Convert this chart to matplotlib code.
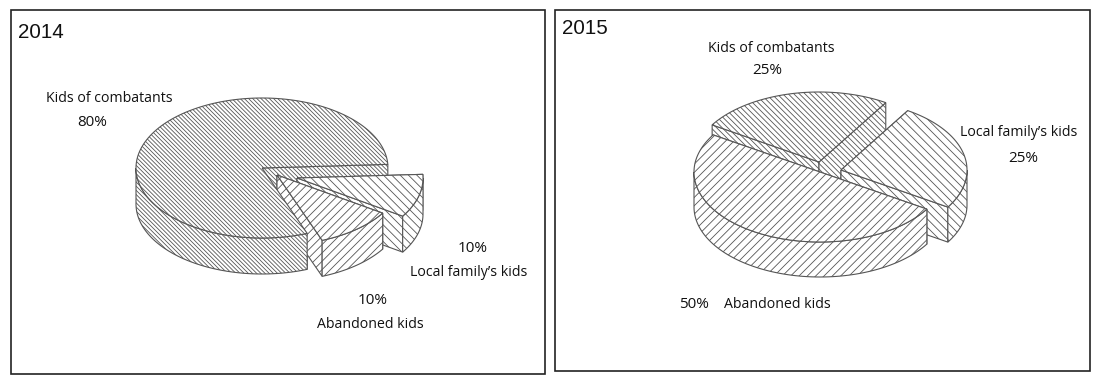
import numpy as np
import matplotlib
matplotlib.use("Agg")
import matplotlib.pyplot as plt
from matplotlib.path import Path
from matplotlib.patches import PathPatch, Rectangle

categories = ["Kids of combatants", "Abandoned kids", "Local family’s kids"]
values_2014 = [80, 10, 10]
values_2015 = [25, 50, 25]

HATCH_COL = "#555555"
plt.rcParams["hatch.linewidth"] = 0.6
LABEL_FONT = "Open Sans"
RX, RY = 126.0, 70.0

fig = plt.figure(figsize=(11, 3.81), dpi=100)
ax = fig.add_axes([0, 0, 1, 1])
ax.set_xlim(0, 1100)
ax.set_ylim(381, 0)
ax.axis("off")


def ell(c, t):
    t = np.radians(t)
    return np.column_stack([c[0] + RX * np.cos(t), c[1] - RY * np.sin(t)])


def poly(pts, hatch, z):
    ax.add_patch(PathPatch(Path(np.vstack([pts, pts[:1]])), facecolor="white",
                           edgecolor=HATCH_COL, hatch=hatch, lw=0.8, zorder=z))


def faces(c, t0, t1, depth, hatch, z):
    down = np.array([0, depth])
    ctr = np.array([c])
    for t in (t1, t0):
        e = ell(c, np.array([t]))
        poly(np.vstack([ctr, e, e + down, ctr + down]), hatch, z)


def shell(c, t0, t1, depth, hatch, z):
    down = np.array([0, depth])
    ctr = np.array([c])
    for k in (-360, 0, 360):
        a, b = max(t0, 180 + k), min(t1, 360 + k)
        if b > a:
            arc = ell(c, np.linspace(a, b, 80))
            poly(np.vstack([arc, arc[::-1] + down]), hatch, z)
    arc = ell(c, np.linspace(t0, t1, 200))
    poly(np.vstack([ctr, arc]), hatch, z)


def pie(vals, start, centres, hatches, order, depth):
    a = start
    spans = []
    for v in vals:
        spans.append((a, a + v * 3.6))
        a += v * 3.6
    for z, (part, i) in enumerate(order):
        for fn in ([faces] if part != "s" else []) + ([shell] if part != "f" else []):
            fn(centres[i], spans[i][0], spans[i][1], depth, hatches[i], z + 2)


# 2014: combatants, abandoned, local counter-clockwise from the right
pie(values_2014, 3,
    [(262, 168), (277, 175), (297, 178)],
    ["\\" * 8, "/" * 4, "\\" * 4],
    [("f", 0), ("a", 2), ("a", 1), ("s", 0)], 36)

# 2015: local, combatants, abandoned counter-clockwise from the lower right
pie([values_2015[2], values_2015[0], values_2015[1]], -32,
    [(841, 170), (819, 162), (820, 172)],
    ["\\" * 4, "\\" * 6, "/" * 4],
    [("a", 1), ("a", 0), ("a", 2)], 35)

# panel frames
for x0, y0, x1, y1 in [(10.5, 10, 545, 373.5), (555, 9.5, 1090, 371)]:
    ax.add_patch(Rectangle((x0, y0), x1 - x0, y1 - y0, fill=False, ec="#222222", lw=1.2, zorder=10))

ax.text(18, 32, "2014", fontsize=14.8, family="Liberation Sans", va="center", ha="left", color="#111111")
ax.text(562, 29, "2015", fontsize=14.8, family="Liberation Sans", va="center", ha="left", color="#111111")


def lab(x, y, s, ha="center"):
    ax.text(x, y, s, fontsize=10.2, family=LABEL_FONT, va="center", ha=ha, color="#111111", zorder=11)


def pct(x, y, v):
    ax.text(x, y, f"{v}%", fontsize=11, family=LABEL_FONT, va="center", ha="center", color="#111111", zorder=11)


lab(46, 99, categories[0], "left")
pct(92, 122, values_2014[0])
pct(473, 249, values_2014[2])
lab(410, 272, categories[2], "left")
pct(373, 300, values_2014[1])
lab(317, 324, categories[1], "left")

lab(708, 48, categories[0], "left")
pct(767, 71, values_2015[0])
lab(960, 132, categories[2], "left")
pct(1023, 159, values_2015[2])
pct(694, 305, values_2015[1])
lab(724, 305, categories[1], "left")

fig.savefig("out.png", dpi=100)
